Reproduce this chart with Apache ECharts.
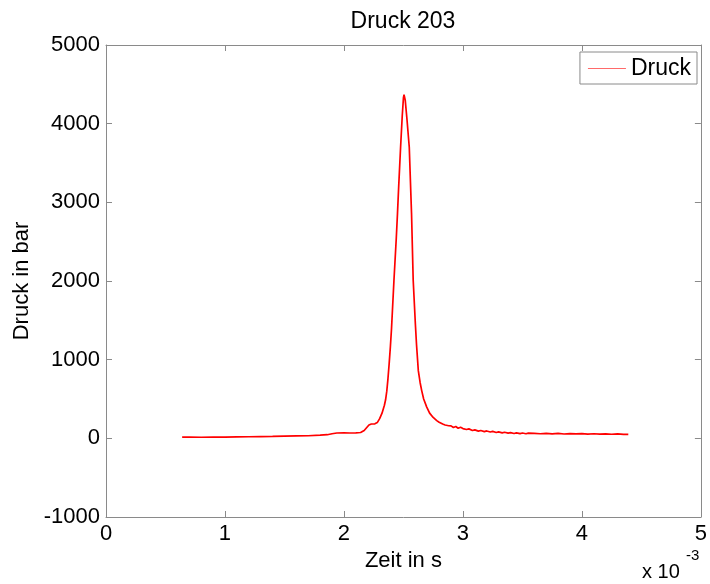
<!DOCTYPE html>
<html>
<head>
<meta charset="utf-8">
<script src="https://cdn.jsdelivr.net/npm/echarts@6/dist/echarts.min.js"></script>
<style>
  html, body { margin: 0; padding: 0; background: #fff; }
  #chart { width: 710px; height: 584px; }
</style>
</head>
<body>
<div id="chart"></div>
<script>
// Pressure trace "Druck 203": time in seconds, pressure in bar
const zeit = [
  0.00064, 0.00070, 0.00080, 0.00090, 0.00100, 0.00110, 0.00120, 0.00130, 0.00140, 0.00150,
  0.00160, 0.00170, 0.00180, 0.00186, 0.00190, 0.00194, 0.00200, 0.00205, 0.00210, 0.00214,
  0.00217, 0.00219, 0.00221, 0.00223, 0.00226, 0.00228, 0.00230, 0.00232, 0.00234, 0.00235,
  0.00236, 0.00237, 0.00238, 0.00239, 0.00240, 0.00242, 0.00244, 0.00245, 0.00246, 0.002476,
  0.00249, 0.00250, 0.002505, 0.002515, 0.00253, 0.002549, 0.002568, 0.002582, 0.00260, 0.00261,
  0.002625, 0.00264, 0.002653, 0.00267, 0.002695, 0.00272, 0.00275, 0.00278, 0.00280, 0.00283,
  0.00285, 0.00288, 0.00290, 0.00292, 0.00294, 0.00296, 0.00298, 0.00300, 0.00303, 0.00305,
  0.00308, 0.00310, 0.00313, 0.00315, 0.00318, 0.00320, 0.00323, 0.00325, 0.00328, 0.00330,
  0.00333, 0.00335, 0.00338, 0.00340, 0.00343, 0.00345, 0.00348, 0.00350, 0.00353, 0.00355,
  0.00360, 0.00365, 0.00370, 0.00375, 0.00380, 0.00385, 0.00390, 0.00395, 0.00400, 0.00405,
  0.00410, 0.00415, 0.00420, 0.00425, 0.00430, 0.00435, 0.00439
];
const druck = [
  15, 16, 14, 17, 16, 19, 20, 22, 24, 27,
  30, 33, 40, 46, 58, 68, 70, 68, 70, 74,
  100, 135, 170, 182, 184, 200, 250, 320, 420, 490,
  600, 760, 950, 1160, 1400, 2000, 2550, 2860, 3200, 3700,
  4100, 4330, 4370, 4300, 4050, 3700, 2860, 2010, 1460, 1190,
  860, 710, 610, 500, 400, 320, 265, 225, 205, 182,
  170, 160, 158, 138, 150, 128, 140, 124, 112, 120,
  100, 108, 92, 100, 86, 94, 80, 88, 74, 82,
  70, 78, 66, 72, 62, 70, 60, 68, 58, 66,
  62, 58, 62, 56, 62, 55, 60, 56, 60, 54,
  58, 54, 57, 52, 56, 51, 50
];
// Axis ticks (pressure in bar, time in s)
const yTicks = [-1000, 0, 1000, 2000, 3000, 4000, 5000];
const xTicks = [0, 0.001, 0.002, 0.003, 0.004, 0.005];

const FONT = '"Liberation Sans", Arial, Helvetica, sans-serif';
const AXIS_COLOR = '#8a8a8a';

const chart = echarts.init(document.getElementById('chart'), null, { renderer: 'canvas' });

const frameAxis = (extra) => Object.assign({
  type: 'value',
  axisLine: { show: true, onZero: false, lineStyle: { color: AXIS_COLOR, width: 1 } },
  axisTick: { show: true, inside: true, length: 6, lineStyle: { color: AXIS_COLOR } },
  splitLine: { show: false },
  axisLabel: { show: false }
}, extra);

chart.setOption({
  animation: false,
  backgroundColor: '#fff',
  title: {
    text: 'Druck 203',
    left: 398,
    top: 5,
    textAlign: 'center',
    textStyle: { fontFamily: FONT, fontSize: 23, fontWeight: 'normal', color: '#000' }
  },
  legend: {
    data: ['Druck'],
    right: 13,
    top: 52,
    orient: 'vertical',
    backgroundColor: '#fff',
    borderColor: AXIS_COLOR,
    borderWidth: 1,
    borderRadius: 0,
    padding: [5, 6, 4, 8],
    icon: 'rect',
    itemWidth: 38,
    itemHeight: 1,
    itemGap: 4,
    itemStyle: { color: '#ff6a6a' },
    textStyle: { fontFamily: FONT, fontSize: 23, color: '#000' }
  },
  grid: { left: 106, right: 9, top: 45, bottom: 67, containLabel: false },
  xAxis: [
    frameAxis({
      position: 'bottom',
      min: xTicks[0],
      max: xTicks[xTicks.length - 1],
      interval: 0.001,
      name: 'Zeit in s',
      nameLocation: 'middle',
      nameGap: 24,
      nameTextStyle: { fontFamily: FONT, fontSize: 22, color: '#000' },
      axisLabel: {
        show: true,
        margin: 6,
        fontFamily: FONT,
        fontSize: 22,
        color: '#000',
        formatter: (v) => String(Math.round(v * 1000))
      }
    }),
    frameAxis({ position: 'top', min: xTicks[0], max: xTicks[xTicks.length - 1], interval: 0.001 })
  ],
  yAxis: [
    frameAxis({
      position: 'left',
      min: yTicks[0],
      max: yTicks[yTicks.length - 1],
      interval: 1000,
      name: 'Druck in bar',
      nameLocation: 'middle',
      nameGap: 65,
      nameTextStyle: { fontFamily: FONT, fontSize: 22, color: '#000' },
      axisLabel: {
        show: true, margin: 6, fontFamily: FONT, fontSize: 22, color: '#000',
        formatter: (v) => String(v)
      }
    }),
    frameAxis({ position: 'right', min: yTicks[0], max: yTicks[yTicks.length - 1], interval: 1000 })
  ],
  graphic: [
    {
      type: 'text',
      left: 642,
      top: 562,
      style: { text: 'x 10', font: '20px ' + FONT, fill: '#000' }
    },
    {
      type: 'text',
      left: 686,
      top: 548,
      style: { text: '-3', font: '15px ' + FONT, fill: '#000' }
    }
  ],
  series: [{
    name: 'Druck',
    type: 'line',
    xAxisIndex: 0,
    yAxisIndex: 0,
    data: zeit.map((t, i) => [t, druck[i]]),
    showSymbol: false,
    symbol: 'none',
    smooth: false,
    lineStyle: { color: '#ff0000', width: 1.7 },
    itemStyle: { color: '#ff0000' }
  }]
});
</script>
</body>
</html>
